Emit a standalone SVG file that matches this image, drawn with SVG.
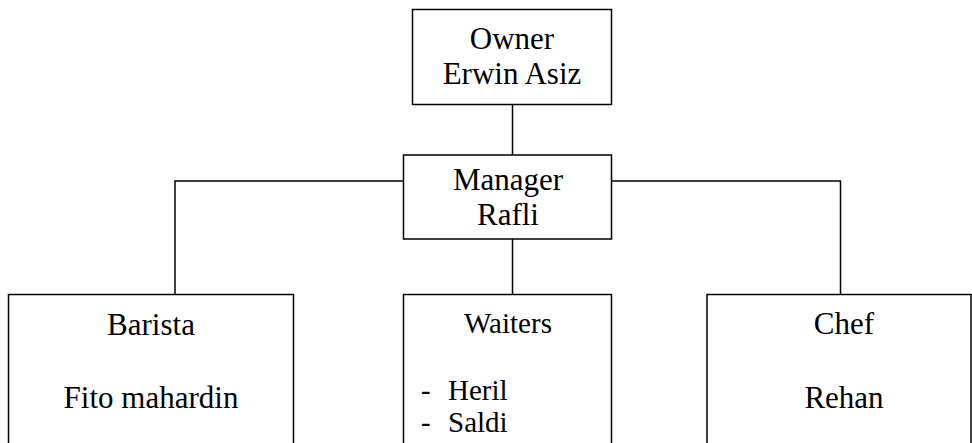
<svg xmlns="http://www.w3.org/2000/svg" width="972" height="443" viewBox="0 0 972 443">
<style>
.box{fill:#fff;stroke:#000;stroke-width:1.5}
.ln{fill:none;stroke:#000;stroke-width:1.5}
text{font-family:'Liberation Serif','Times New Roman',serif;fill:#000}
.t{font-size:31px;text-anchor:middle}
.s{font-size:29px}
</style>
<rect width="972" height="443" fill="#fff"/>
<g id="connectors">
<line class="ln" x1="512.5" y1="105" x2="512.5" y2="155"/>
<line class="ln" x1="512.5" y1="239" x2="512.5" y2="294"/>
<polyline class="ln" points="403,181 175,181 175,294"/>
<polyline class="ln" points="611,181 840.5,181 840.5,294"/>
</g>
<g id="owner">
<rect class="box" x="412.5" y="9.5" width="199" height="95"/>
<text class="t" x="512" y="49">Owner</text>
<text class="t" x="512" y="84">Erwin Asiz</text>
</g>
<g id="manager">
<rect class="box" x="403.5" y="155" width="208" height="84"/>
<text class="t" x="508" y="190">Manager</text>
<text class="t" x="508" y="225">Rafli</text>
</g>
<g id="barista">
<rect class="box" x="8.5" y="294.5" width="285" height="160"/>
<text class="t" x="151" y="335">Barista</text>
<text class="t" x="151" y="408">Fito mahardin</text>
</g>
<g id="waiters">
<rect class="box" x="403.5" y="294.5" width="208" height="160"/>
<text class="t" x="508" y="333" style="font-size:29px">Waiters</text>
<text class="s" x="421" y="400">-</text>
<text class="s" x="448" y="400">Heril</text>
<text class="s" x="421" y="432">-</text>
<text class="s" x="448" y="432">Saldi</text>
</g>
<g id="chef">
<rect class="box" x="707" y="294.5" width="264" height="160"/>
<text class="t" x="844" y="334">Chef</text>
<text class="t" x="844" y="408">Rehan</text>
</g>
</svg>
